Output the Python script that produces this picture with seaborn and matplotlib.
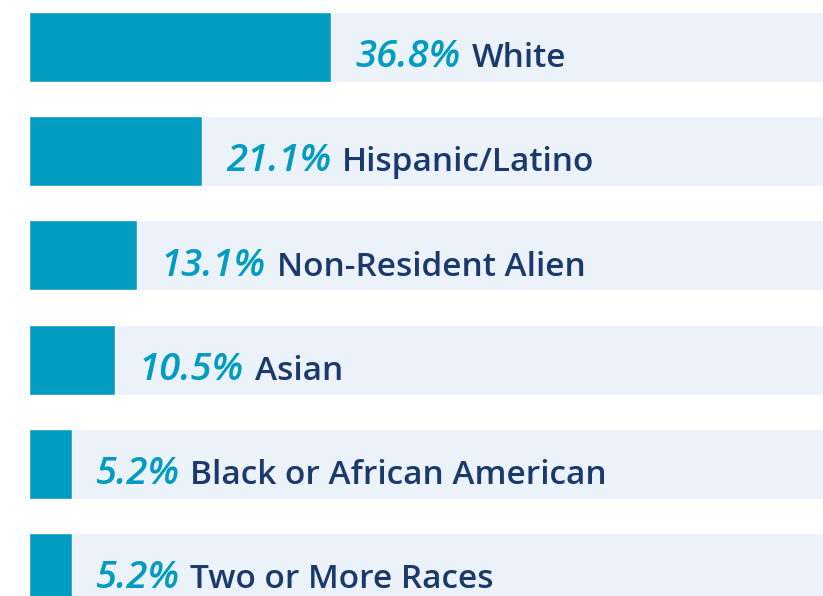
import matplotlib
matplotlib.use('Agg')
import matplotlib.pyplot as plt
import seaborn as sns
import pandas as pd

categories = ['White', 'Hispanic/Latino', 'Non-Resident Alien', 'Asian',
              'Black or African American', 'Two or More Races']
values = [36.8, 21.1, 13.1, 10.5, 5.2, 5.2]
track = [100] * len(categories)

teal = '#029cc0'
light = '#ebf2f9'
navy = '#1b3a6b'

df = pd.DataFrame({'group': categories, 'share': values, 'track': track})

sns.set_style('white')
fig = plt.figure(figsize=(8.23, 5.96), dpi=100)
ax = fig.add_axes([29 / 823, 0, 1 - 29 / 823, 1])

# light full-width track behind each bar, then the actual share
sns.barplot(data=df, x='track', y='group', color=light, width=0.672,
            saturation=1, orient='h', ax=ax)
sns.barplot(data=df, x='share', y='group', color=teal, width=0.672,
            saturation=1, orient='h', ax=ax)

ax.set_xlim(0, 794 / 8.22)
ax.set_ylim(5.269, -0.451)
ax.axis('off')

renderer = fig.canvas.get_renderer()
for i, (cat, v) in enumerate(zip(categories, values)):
    t = ax.annotate(f'{v}%', xy=(v, i), xytext=(17, -14.5), textcoords='offset points',
                    va='baseline', ha='left', color=teal, fontsize=27.5,
                    fontstyle='italic', fontweight='semibold', family='Open Sans')
    w = t.get_window_extent(renderer).width * 72 / fig.dpi
    ax.annotate(cat, xy=(v, i), xytext=(17 + w + 8, -14.5), textcoords='offset points',
                va='baseline', ha='left', color=navy, fontsize=24,
                fontweight='semibold', family='Open Sans')

plt.savefig('out.png', dpi=100)
plt.close()
